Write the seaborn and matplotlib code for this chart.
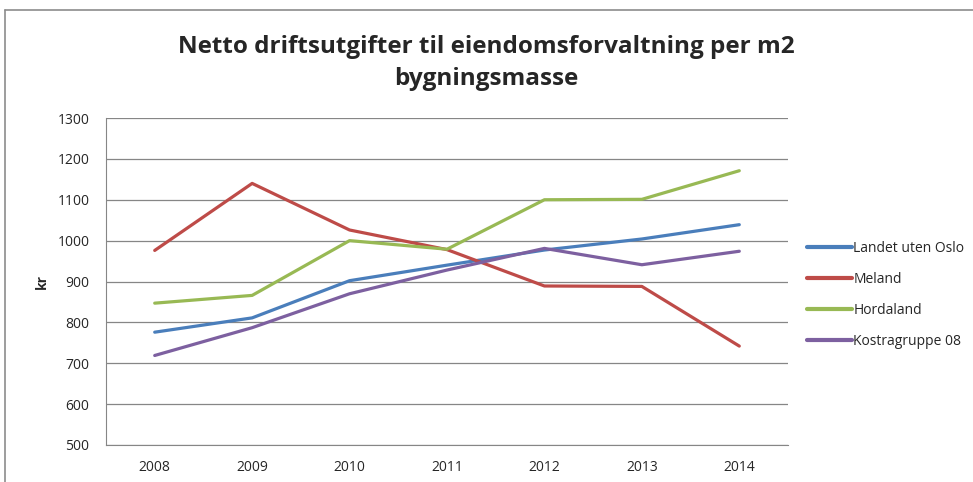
import seaborn as sns
import matplotlib.pyplot as plt
import pandas as pd

# Netto driftsutgifter til eiendomsforvaltning per m2 bygningsmasse
years = [2008, 2009, 2010, 2011, 2012, 2013, 2014]
landet = [776, 811, 902, 940, 977, 1004, 1039]
meland = [976, 1140, 1026, 978, 889, 888, 742]
hordaland = [847, 866, 1000, 979, 1100, 1101, 1171]
kostra = [719, 787, 870, 928, 981, 941, 974]

series = ["Landet uten Oslo", "Meland", "Hordaland", "Kostragruppe 08"]
colors = ["#4A7EBB", "#BE4B48", "#98B954", "#7D60A0"]

rows = []
for name, vals in zip(series, [landet, meland, hordaland, kostra]):
    for i, v in enumerate(vals):
        rows.append({"pos": i, "year": years[i], "serie": name, "kr": v})
df = pd.DataFrame(rows)

sns.set_style("white")
plt.rcParams['font.family'] = ['Open Sans', 'DejaVu Sans']

fig = plt.figure(figsize=(9.73, 4.82), dpi=100)
ax = fig.add_axes([106 / 973, 1 - 445 / 482, (788 - 106) / 973, (445 - 118) / 482])

sns.lineplot(data=df, x="pos", y="kr", hue="serie", hue_order=series,
             palette=colors, linewidth=2.3, ax=ax)

ax.set_xlim(-0.5, 6.5)
ax.set_ylim(500, 1300)
ax.set_xticks(range(len(years)))
ax.set_xticklabels(years)
ax.set_yticks(range(500, 1301, 100))
ax.yaxis.grid(True, color="#868686", linewidth=0.9)
ax.tick_params(axis="y", length=6, color="#868686", labelsize=10, pad=6)
ax.tick_params(axis="x", length=0, labelsize=10, pad=11)
ax.set_xlabel("")
ax.set_ylabel("kr", fontsize=10, fontweight="bold", labelpad=6)
for s in ["top", "right"]:
    ax.spines[s].set_visible(False)
for s in ["left", "bottom"]:
    ax.spines[s].set_color("#868686")

fig.suptitle("Netto driftsutgifter til eiendomsforvaltning per m2\nbygningsmasse",
             x=0.5, y=0.928, fontsize=17.5, fontweight="bold", linespacing=1.45)

leg = ax.legend(loc="center left", bbox_to_anchor=(1.01, 0.46), frameon=False,
                fontsize=10, handlelength=3.2, handletextpad=0.1, labelspacing=1.15)
for line in leg.get_lines():
    line.set_linewidth(3)

# outer chart border (cropped at right and bottom)
fig.add_artist(plt.Line2D([5 / 973, 1], [1 - 10 / 482, 1 - 10 / 482],
                          color="#8c8c8c", linewidth=1.2, transform=fig.transFigure))
fig.add_artist(plt.Line2D([5 / 973, 5 / 973], [0, 1 - 10 / 482],
                          color="#8c8c8c", linewidth=1.2, transform=fig.transFigure))

fig.savefig("out.png", dpi=100)
